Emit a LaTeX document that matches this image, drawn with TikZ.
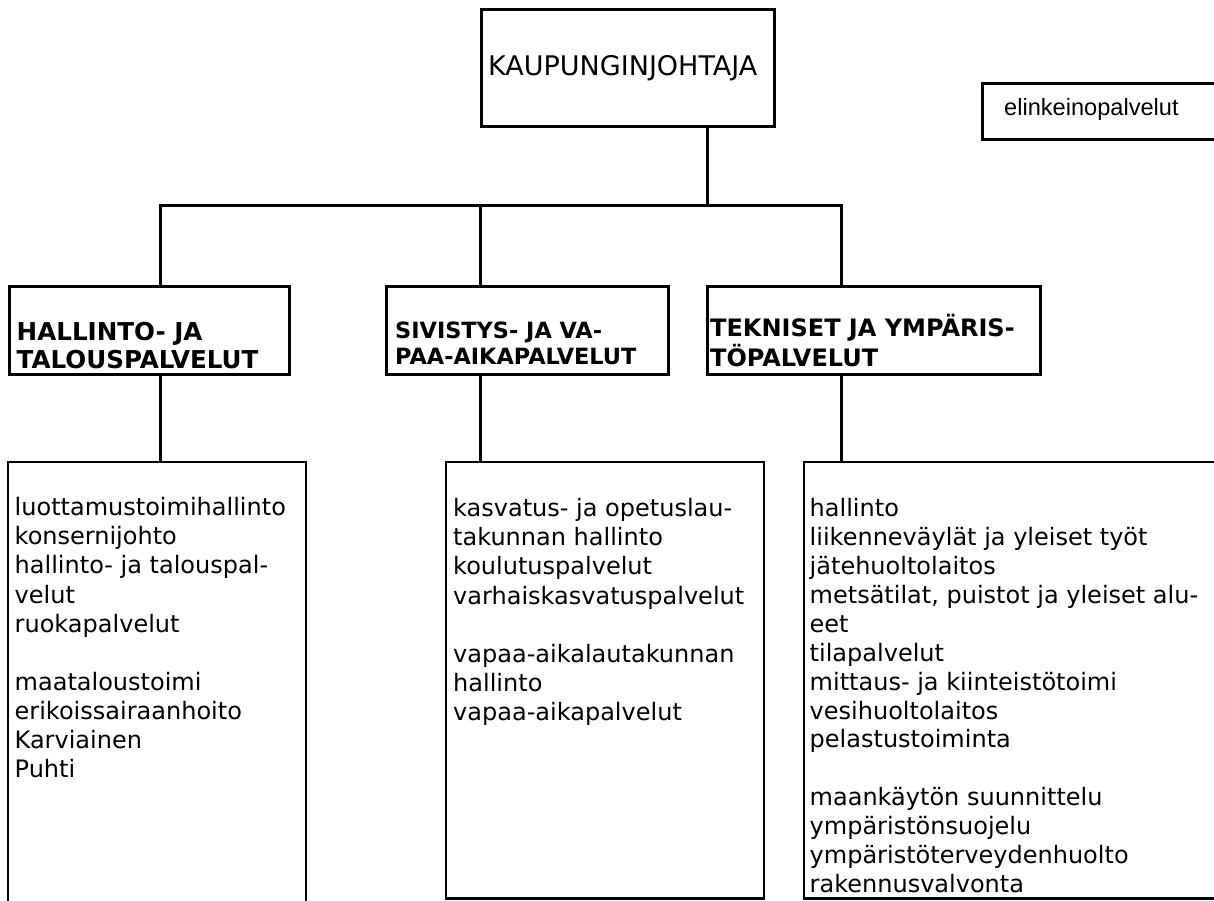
\documentclass[tikz,border=0pt]{standalone}
\usepackage{fontspec}
\setmainfont{DejaVu Sans}
\newfontfamily\arialfont{Liberation Sans}
\begin{document}
\begin{tikzpicture}[x=1pt,y=-1pt,
  frame/.style={draw=black,line width=3pt,inner sep=0pt,outer sep=0pt,anchor=north west},
  lowframe/.style={draw=black,line width=2.6pt,inner sep=0pt,outer sep=0pt,anchor=north west},
  conn/.style={draw=black,line width=3pt,line join=miter},
  lowline/.style={draw=black,line width=2.6pt,line join=miter},
  item/.style={anchor=base west,inner sep=0pt,font=\fontsize{24}{29}\selectfont},
  head/.style={anchor=base west,inner sep=0pt}]
\useasboundingbox (0,0) rectangle (1214,900);
\clip (0,0) rectangle (1214,900);

% top box
\node[frame,minimum width=293pt,minimum height=117pt] (topbox) at (481,9) {};
\node[anchor=base west,inner sep=0pt,font=\fontsize{27}{31}\selectfont] (toplabel) at (488,75) {KAUPUNGINJOHTAJA};

% elinkeinopalvelut (box runs off the right edge)
\coordinate (e1) at (1220,83);
\coordinate (e2) at (982.5,83);
\coordinate (e3) at (982.5,139.7);
\coordinate (e4) at (1220,139.7);
\draw[conn] (e1) -- (e2) -- (e3) -- (e4);
\node[anchor=base west,inner sep=0pt,font=\arialfont\fontsize{23.6}{27}\selectfont] (elink) at (1004,115) {elinkeinopalvelut};

% middle level boxes
\node[frame,minimum width=280pt,minimum height=88pt] (mid1) at (9,286) {};
\node[frame,minimum width=282pt,minimum height=88pt] (mid2) at (386,286) {};
\node[frame,minimum width=333pt,minimum height=88pt] (mid3) at (707,286) {};

\node[head,font=\fontsize{24.6}{27}\bfseries\selectfont] (h1a) at (16.5,340.7) {HALLINTO- JA};
\node[head,font=\fontsize{24.6}{27}\bfseries\selectfont] (h1b) at (16.5,368.3) {TALOUSPALVELUT};
\node[head,font=\fontsize{22.4}{26}\bfseries\selectfont] (h2a) at (395,338.3) {SIVISTYS- JA VA-};
\node[head,font=\fontsize{22.4}{26}\bfseries\selectfont] (h2b) at (395,364) {PAA-AIKAPALVELUT};
\node[head,font=\fontsize{24}{29}\bfseries\selectfont] (h3a) at (710,336.7) {TEKNISET JA YMPÄRIS-};
\node[head,font=\fontsize{24}{29}\bfseries\selectfont] (h3b) at (710,366.7) {TÖPALVELUT};

% junctions
\coordinate (hub) at (707,205);
\coordinate (j1) at (160,205);
\coordinate (j2) at (480,205);
\coordinate (j3) at (841,205);
\draw[conn] (j1 |- mid1.north) -- (j1) -- (j3) -- (j3 |- mid3.north);
\draw[conn] (topbox.south -| hub) -- (hub);
\draw[conn] (j2) -- (j2 |- mid2.north);

% bottom boxes
\coordinate (b1top) at (160,462);
\coordinate (b3top) at (841,462);
\draw[lowline] (8,905) -- (8,462) -- (291,462);
\draw[draw=black,line width=1.6pt] (291,462) -- (306,462);
\draw[lowline] (306,461) -- (306,905);
\node[lowframe,minimum width=318pt,minimum height=436.5pt] (bot2) at (446,462) {};
\draw[lowline] (1220,462) -- (804,462) -- (804,898.5) -- (1220,898.5);

\draw[conn] (mid1.south -| j1) -- (b1top);
\draw[conn] (mid2.south -| j2) -- (bot2.north -| j2);
\draw[conn] (mid3.south -| j3) -- (b3top);

% lists
\foreach \t [count=\i from 0] in {luottamustoimihallinto,konsernijohto,hallinto- ja talouspal-,velut,ruokapalvelut,{},maataloustoimi,erikoissairaanhoito,Karviainen,Puhti}
  \node[item] (a\i) at (14.5,515.7+29.1*\i) {\t};
\foreach \t [count=\i from 0] in {kasvatus- ja opetuslau-,takunnan hallinto,koulutuspalvelut,varhaiskasvatuspalvelut,{},vapaa-aikalautakunnan,hallinto,vapaa-aikapalvelut}
  \node[item] (b\i) at (453,516.7+29.1*\i) {\t};
\foreach \t [count=\i from 0] in {hallinto,liikenneväylät ja yleiset työt,jätehuoltolaitos,{metsätilat, puistot ja yleiset alu-},eet,tilapalvelut,mittaus- ja kiinteistötoimi,vesihuoltolaitos,pelastustoiminta,{},maankäytön suunnittelu,ympäristönsuojelu,ympäristöterveydenhuolto,rakennusvalvonta}
  \node[item] (c\i) at (809.5,516.7+28.9*\i) {\t};
\end{tikzpicture}
\end{document}
